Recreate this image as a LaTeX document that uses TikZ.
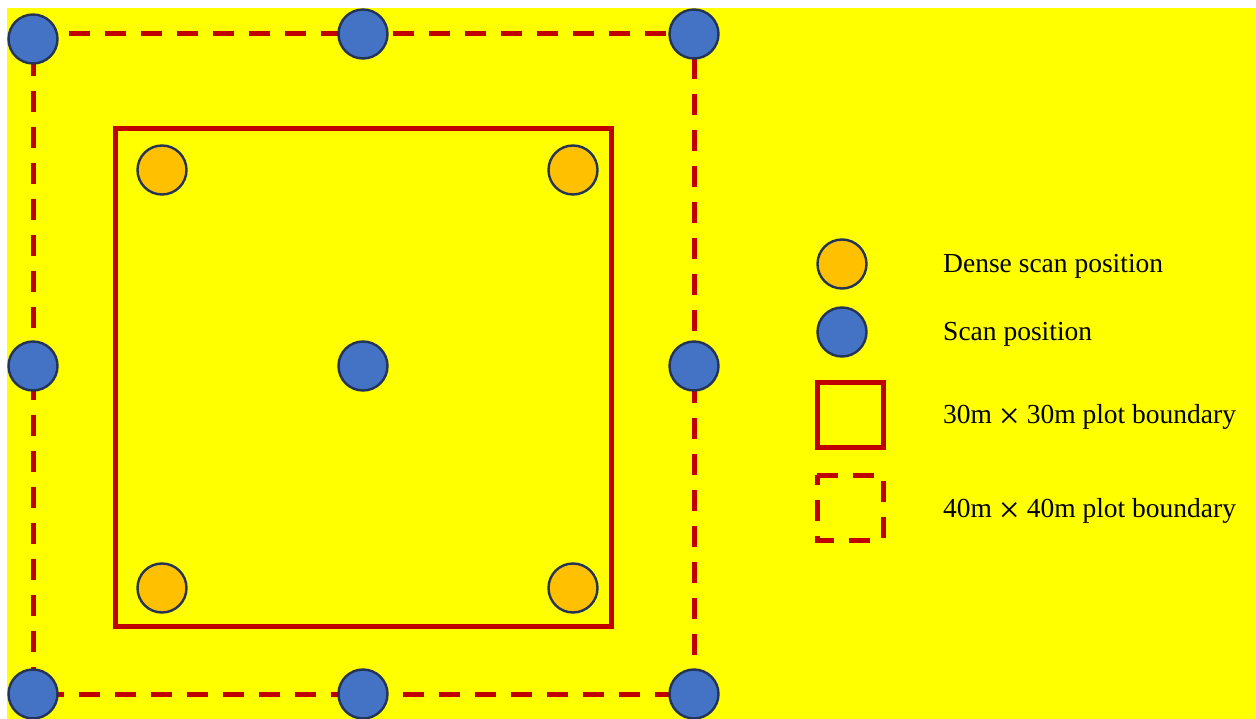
\documentclass[tikz,border=0pt]{standalone}
\usepackage{fontspec}
\usepackage{graphicx}
\setmainfont{Liberation Serif}

\definecolor{plotyellow}{HTML}{FFFF00}
\definecolor{plotred}{HTML}{C00000}
\definecolor{scanblue}{HTML}{4472C4}
\definecolor{denseorange}{HTML}{FFC000}
\definecolor{rimnavy}{HTML}{243457}

\newcommand{\bytimes}{\raisebox{-0.17em}{\scalebox{1.35}{×}}}

\tikzset{
    scan/.style={circle, draw=rimnavy, line width=2.4pt, fill=scanblue, minimum size=49pt, inner sep=0pt},
    dense/.style={scan, fill=denseorange},
    inner plot/.style={draw=plotred, line width=5pt},
    outer plot/.style={draw=plotred, line width=5pt, dash pattern=on 21pt off 15pt},
    legend text/.style={anchor=west, inner sep=0pt, font=\fontsize{27.5}{33}\selectfont}
}

\begin{document}
\begin{tikzpicture}[x=1pt, y=-1pt]
    % Page and background
    \useasboundingbox (0,0) rectangle (1256,719);
    \fill[white] (0,0) rectangle (1256,719);
    \fill[plotyellow] (7,8) rectangle (1256,719);

    % Corners of the 40m plot
    \coordinate (otl) at (33,34);
    \coordinate (otr) at (694,34);
    \coordinate (obl) at (33,694);
    \coordinate (obr) at (694,694);

    % Plot boundaries
    \draw[outer plot] (otl) -- (otr);
    \draw[outer plot, dash phase=12pt] (otr) -- (obr);
    \draw[outer plot, dash phase=26pt] (obl) -- (obr);
    \draw[outer plot, dash phase=15pt] (otl) -- (obl);
    \draw[inner plot] (115,129) rectangle (611,626);

    % Scan positions on a 3 x 3 grid
    \foreach \name/\x/\y in {stl/33/39, stm/363/34, str/694/34,
                             scl/33/366, scm/363/366, scr/694/366,
                             sbl/33/694, sbm/363/694, sbr/694/694} {
        \node[scan] (\name) at (\x,\y) {};
    }

    % Dense scan positions
    \node[dense] (dtl) at (162,170) {};
    \node[dense] (dtr) at (573,170) {};
    \node[dense] (dbl) at (162,588) {};
    \node[dense] (dbr) at (573,588) {};

    % Legend
    \node[dense] (keydense) at (842,264) {};
    \node[scan] (keyscan) at (842,332) {};
    \draw[inner plot] (817,382) rectangle (883,447);
    \draw[outer plot] (817,475) -- (883,475) -- (883,540) -- (817,540) -- cycle;

    \node[legend text] (txtdense) at (943,266) {Dense scan position};
    \node[legend text] (txtscan) at (943,334) {Scan position};
    \node[legend text] (txtinner) at (943,417) {30m \bytimes{} 30m plot boundary};
    \node[legend text] (txtouter) at (943,511) {40m \bytimes{} 40m plot boundary};
\end{tikzpicture}
\end{document}
